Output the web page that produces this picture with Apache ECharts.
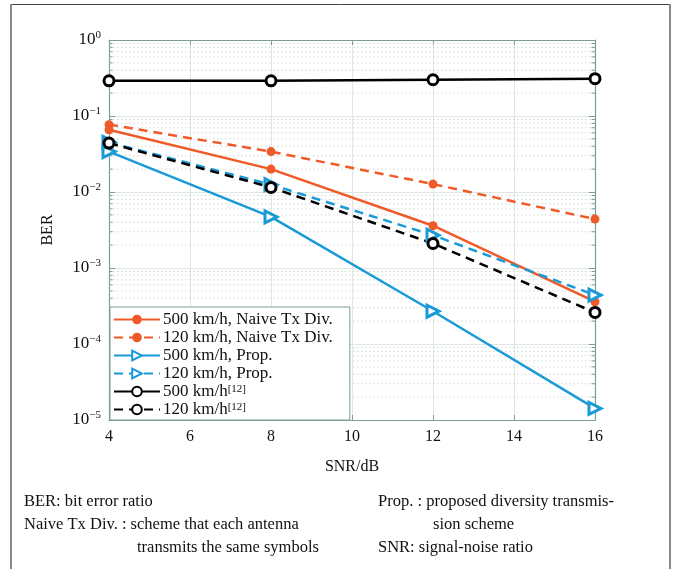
<!DOCTYPE html>
<html>
<head>
<meta charset="utf-8">
<script src="https://cdn.jsdelivr.net/npm/echarts@6/dist/echarts.min.js"></script>
<style>
  html, body { margin: 0; padding: 0; background: #fff; }
  #main { width: 674px; height: 569px; }
</style>
</head>
<body>
<div id="main"></div>
<script>
// SNR (dB)
var snr = [4, 8, 12, 16];
// BER values
var naive500 = [0.066, 0.020, 0.0036, 0.00036];
var naive120 = [0.077, 0.034, 0.0127, 0.0044];
var prop500 = [0.034, 0.0047, 0.00027, 0.0000142];
var prop120 = [0.045, 0.0125, 0.0027, 0.00044];
var ref500 = [0.29, 0.29, 0.30, 0.31];
var ref120 = [0.044, 0.0115, 0.0021, 0.00026];

var legendNames = [
	'500 km/h, Naive Tx Div.',
	'120 km/h, Naive Tx Div.',
	'500 km/h, Prop.',
	'120 km/h, Prop.',
	'500 km/h[12]',
	'120 km/h[12]'
];

var serif = 'Liberation Serif';
var colorPane = ['#f05a28', '#1b9ad8', '#000000'];	// 橙、蓝、黑
var axisColor = '#7c9f93';
var gridColor = '#dfe7e4';

// 对数副刻度 2..9 x 10^n
var minorVals = [];
for (var e = -5; e < 0; e++) {
	for (var k = 2; k <= 9; k++) {
		minorVals.push(+(k * Math.pow(10, e)).toPrecision(3));
	}
}

function pairs(ys) {
	return snr.map(function (x, i) { return [x, ys[i]]; });
}

var chart = echarts.init(document.getElementById('main'));

function lineSeries(name, data, color, dashed, symbol, size, fill, rotate) {
	return {
		name: name,
		type: 'line',
		data: pairs(data),
		symbol: symbol,
		symbolSize: size,
		symbolRotate: rotate || 0,
		showAllSymbol: true,
		z: 5,
		lineStyle: { color: color, width: 2.5, type: dashed ? [9, 6] : 'solid' },
		itemStyle: {
			color: fill,
			borderColor: color,
			borderWidth: fill === color ? 0 : 3
		}
	};
}

var captionFont = '16.5px "Liberation Serif"';

var option = {
	animation: false,
	textStyle: { fontFamily: serif },
	grid: { left: 109, right: 79, top: 40, bottom: 149 },
	legend: {
		orient: 'vertical',
		left: 110,
		top: 307,
		padding: [4, 17, 2, 3],
		itemWidth: 46,
		itemHeight: 12,
		itemGap: 1,
		backgroundColor: '#fff',
		borderColor: axisColor,
		borderWidth: 1,
		borderRadius: 0,
		data: legendNames,
		formatter: function (n) {
			return n.replace('[12]', '{s|[12]}');
		},
		textStyle: {
			fontFamily: serif,
			fontSize: 17,
			lineHeight: 16,
			color: '#111',
			padding: [0, 0, 0, -2],
			rich: {
				s: { fontFamily: serif, fontSize: 11, lineHeight: 16, verticalAlign: 'top', color: '#111' }
			}
		}
	},
	xAxis: [{
		type: 'value',
		min: 4,
		max: 16,
		interval: 2,
		name: 'SNR/dB',
		nameLocation: 'middle',
		nameGap: 39,
		nameTextStyle: { fontFamily: serif, fontSize: 16, color: '#111' },
		axisLine: { lineStyle: { color: axisColor, width: 1.2 } },
		axisTick: { inside: true, length: 5, lineStyle: { color: axisColor } },
		axisLabel: { fontFamily: serif, fontSize: 16, color: '#111', margin: 9 },
		splitLine: { show: true, lineStyle: { color: gridColor, width: 1 } }
	}, {
		type: 'value',
		position: 'top',
		min: 4,
		max: 16,
		interval: 2,
		axisLine: { lineStyle: { color: axisColor, width: 1.2 } },
		axisTick: { inside: true, length: 5, lineStyle: { color: axisColor } },
		axisLabel: { show: false },
		splitLine: { show: false }
	}],
	yAxis: [{
		type: 'log',
		logBase: 10,
		min: 1e-5,
		max: 1,
		name: 'BER',
		nameLocation: 'middle',
		nameGap: 53,
		nameTextStyle: { fontFamily: serif, fontSize: 16, color: '#111' },
		axisLine: { show: true, lineStyle: { color: axisColor, width: 1.2 } },
		axisTick: { inside: true, length: 6, lineStyle: { color: axisColor } },
		axisLabel: {
			fontFamily: serif,
			margin: 8,
			formatter: function (v) {
				var p = Math.round(Math.log10(v));
				return '{b|10}{s|' + (p < 0 ? '\u2212' + (-p) : p) + '}';
			},
			rich: {
				b: { fontFamily: serif, fontSize: 17, color: '#111' },
				s: { fontFamily: serif, fontSize: 11, color: '#111', padding: [0, 0, 10, 0] }
			}
		},
		splitLine: { show: true, lineStyle: { color: gridColor, width: 1 } }
	}, {
		type: 'log',
		logBase: 10,
		position: 'right',
		min: 1e-5,
		max: 1,
		axisLine: { show: true, lineStyle: { color: axisColor, width: 1.2 } },
		axisTick: { inside: true, length: 6, lineStyle: { color: axisColor } },
		axisLabel: { show: false },
		splitLine: { show: false }
	}],
	series: [
		{
			// 副网格线与副刻度
			type: 'custom',
			silent: true,
			z: 1,
			data: minorVals.map(function (v) { return [4, v]; }),
			renderItem: function (params, api) {
				var p = api.coord([4, api.value(1)]);
				var q = api.coord([16, api.value(1)]);
				var style = { stroke: '#cfd8d5', lineWidth: 1, lineDash: [1.5, 2.5] };
				var tick = { stroke: axisColor, lineWidth: 1 };
				return {
					type: 'group',
					children: [
						{ type: 'line', shape: { x1: p[0], y1: p[1], x2: q[0], y2: q[1] }, style: style },
						{ type: 'line', shape: { x1: p[0], y1: p[1], x2: p[0] + 3.5, y2: p[1] }, style: tick },
						{ type: 'line', shape: { x1: q[0], y1: q[1], x2: q[0] - 3.5, y2: q[1] }, style: tick }
					]
				};
			}
		},
		lineSeries(legendNames[0], naive500, colorPane[0], false, 'circle', 9, colorPane[0]),
		lineSeries(legendNames[1], naive120, colorPane[0], true, 'circle', 9, colorPane[0]),
		lineSeries(legendNames[2], prop500, colorPane[1], false, 'triangle', 12, '#fff', -90),
		lineSeries(legendNames[3], prop120, colorPane[1], true, 'triangle', 12, '#fff', -90),
		lineSeries(legendNames[4], ref500, colorPane[2], false, 'circle', 10, '#fff'),
		lineSeries(legendNames[5], ref120, colorPane[2], true, 'circle', 10, '#fff')
	],
	graphic: [
		{ type: 'line', shape: { x1: 11, y1: 4.5, x2: 670, y2: 4.5 }, style: { stroke: '#444', lineWidth: 1 } },
		{ type: 'line', shape: { x1: 11, y1: 4, x2: 11, y2: 569 }, style: { stroke: '#888', lineWidth: 2 } },
		{ type: 'line', shape: { x1: 670, y1: 4, x2: 670, y2: 569 }, style: { stroke: '#888', lineWidth: 2 } },
		{ type: 'text', left: 24, top: 493, style: { text: 'BER: bit error ratio', font: captionFont, fill: '#111' } },
		{ type: 'text', left: 24, top: 516, style: { text: 'Naive Tx Div. : scheme that each antenna', font: captionFont, fill: '#111' } },
		{ type: 'text', left: 137, top: 539, style: { text: 'transmits the same symbols', font: captionFont, fill: '#111' } },
		{ type: 'text', left: 378, top: 493, style: { text: 'Prop. : proposed diversity transmis-', font: captionFont, fill: '#111' } },
		{ type: 'text', left: 433, top: 516, style: { text: 'sion scheme', font: captionFont, fill: '#111' } },
		{ type: 'text', left: 378, top: 539, style: { text: 'SNR: signal-noise ratio', font: captionFont, fill: '#111' } }
	]
};

chart.setOption(option);
</script>
</body>
</html>
